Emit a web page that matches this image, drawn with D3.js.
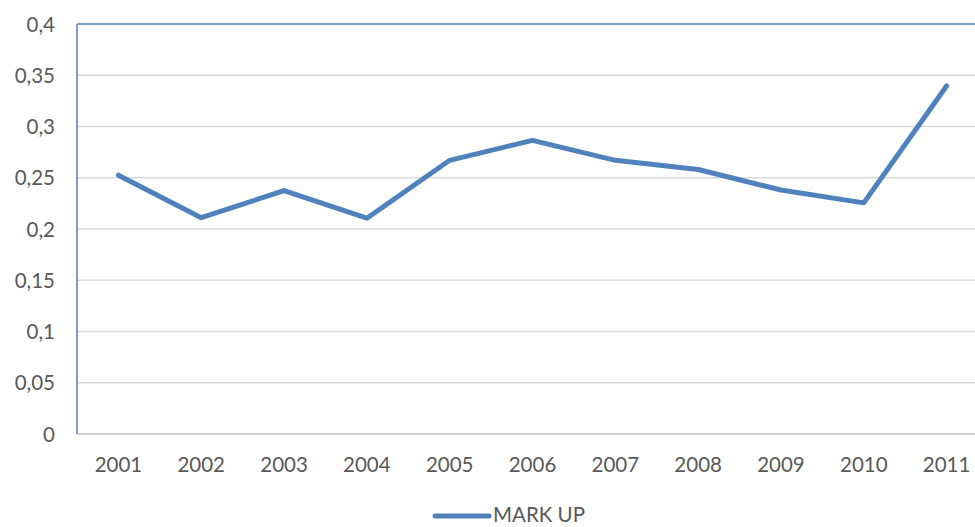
<!DOCTYPE html>
<html>
<head>
<meta charset="utf-8">
<script src="https://cdn.jsdelivr.net/npm/d3@7"></script>
<style>
  html, body { margin: 0; padding: 0; background: #fff; overflow: hidden; }
  svg { display: block; }
  text { font-family: Lato, "Open Sans", sans-serif; fill: #595959; }
</style>
</head>
<body>
<svg id="chart" width="975" height="527"></svg>
<script>
// Mark-up ratio by year
const years = ["2001", "2002", "2003", "2004", "2005", "2006", "2007", "2008", "2009", "2010", "2011"];
const markUp = [0.2525, 0.211, 0.2375, 0.2105, 0.267, 0.2865, 0.267, 0.258, 0.238, 0.2255, 0.3395];
const yTicks = [0, 0.05, 0.1, 0.15, 0.2, 0.25, 0.3, 0.35, 0.4];
const seriesName = "MARK UP";

const plot = { left: 77, top: 24, right: 988, bottom: 434 };
const blue = "#4f81bd";
const fontSize = 20.5;

const svg = d3.select("#chart");
const locale = d3.formatLocale({ decimal: ",", thousands: ".", grouping: [3], currency: ["", ""] });
const fmt = locale.format("~g");

const x = d3.scaleBand().domain(years).range([plot.left, plot.right]);
const y = d3.scaleLinear().domain([0, 0.4]).range([plot.bottom, plot.top]);

// horizontal gridlines
svg.append("g")
  .selectAll("line")
  .data(yTicks.filter(d => d > 0 && d < 0.4))
  .join("line")
  .attr("x1", plot.left).attr("x2", plot.right)
  .attr("y1", d => y(d)).attr("y2", d => y(d))
  .attr("stroke", "#d9d9d9").attr("stroke-width", 1.5);

// y axis labels
const yAxis = d3.axisLeft(y).tickValues(yTicks).tickFormat(fmt).tickSize(0).tickPadding(22);
const gy = svg.append("g").attr("transform", `translate(${plot.left},0)`).call(yAxis);
gy.select(".domain").remove();
gy.selectAll("text").attr("font-size", fontSize).attr("dy", "0.35em")
  .style("font-family", "Lato, 'Open Sans', sans-serif").attr("fill", "#595959");

// x axis labels
const xAxis = d3.axisBottom(x).tickSize(0).tickPadding(23);
const gx = svg.append("g").attr("transform", `translate(0,${plot.bottom})`).call(xAxis);
gx.select(".domain").remove();
gx.selectAll("text").attr("font-size", fontSize)
  .style("font-family", "Lato, 'Open Sans', sans-serif").attr("fill", "#595959");

// bottom axis line
svg.append("line")
  .attr("x1", plot.left).attr("x2", plot.right)
  .attr("y1", y(0)).attr("y2", y(0))
  .attr("stroke", "#c8cfd9").attr("stroke-width", 2);

// plot area border (top and left)
svg.append("line")
  .attr("x1", plot.left).attr("x2", plot.right)
  .attr("y1", plot.top).attr("y2", plot.top)
  .attr("stroke", blue).attr("stroke-width", 1.5);
svg.append("line")
  .attr("x1", plot.left).attr("x2", plot.left)
  .attr("y1", plot.top).attr("y2", plot.bottom)
  .attr("stroke", blue).attr("stroke-width", 1.5);

// series line
const line = d3.line()
  .x((d, i) => x(years[i]) + x.bandwidth() / 2)
  .y(d => y(d));
svg.append("path")
  .datum(markUp)
  .attr("d", line)
  .attr("fill", "none")
  .attr("stroke", blue)
  .attr("stroke-width", 5)
  .attr("stroke-linejoin", "round")
  .attr("stroke-linecap", "round");

// legend
const leg = svg.append("g").attr("transform", "translate(435,516)");
leg.append("line")
  .attr("x1", 0).attr("x2", 54).attr("y1", 0).attr("y2", 0)
  .attr("stroke", blue).attr("stroke-width", 5).attr("stroke-linecap", "round");
leg.append("text")
  .attr("x", 58).attr("y", 6)
  .attr("font-size", fontSize)
  .text(seriesName);
</script>
</body>
</html>
